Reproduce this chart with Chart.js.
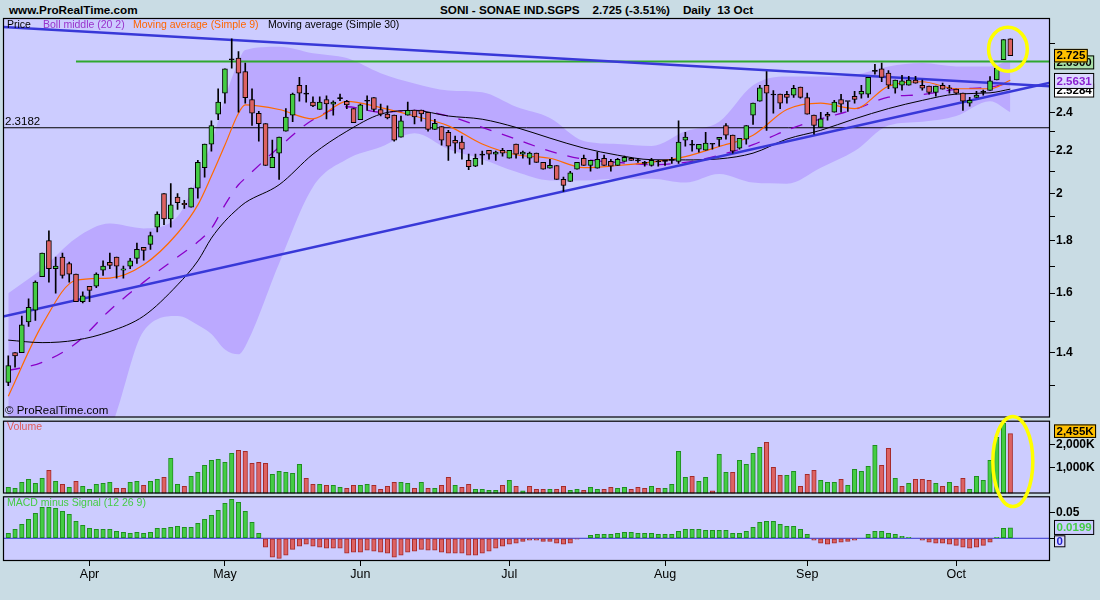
<!DOCTYPE html>
<html>
<head>
<meta charset="utf-8">
<script src="https://cdn.jsdelivr.net/npm/chart.js@4.4.1/dist/chart.umd.min.js"></script>
<style>
  body { margin: 0; width: 1100px; height: 600px; overflow: hidden; background: #c9dce4;
         font-family: "Liberation Sans", Arial, sans-serif; }
  .head { position: absolute; top: 3px; font-weight: bold; font-size: 11.7px; white-space: pre; color: #000; }
  canvas { position: absolute; left: 0; }
</style>
</head>
<body>
<div class="head" style="left:9px">www.ProRealTime.com</div>
<div class="head" style="left:440px">SONI - SONAE IND.SGPS    2.725 (-3.51%)    Daily  13 Oct</div>
<canvas id="priceChart" width="1100" height="420" style="top:0"></canvas>
<canvas id="macdChart" width="1100" height="106" style="top:494px"></canvas>
<canvas id="volChart" width="1100" height="100" style="top:410px"></canvas>
<script>
// daily bars, 16 Mar .. 13 Oct
const opens = [1.31,1.40,1.40,1.50,1.54,1.66,1.80,1.69,1.735,1.71,
  1.67,1.57,1.625,1.625,1.685,1.714,1.735,1.685,1.70,1.73,
  1.773,1.785,1.855,2.00,1.89,1.985,1.957,1.94,2.025,2.12,
  2.235,2.39,2.505,2.70,2.71,2.63,2.47,2.395,2.34,2.12,
  2.19,2.30,2.385,2.55,2.50,2.455,2.415,2.47,2.444,2.475,
  2.46,2.42,2.36,2.46,2.48,2.415,2.39,2.385,2.27,2.385,
  2.412,2.412,2.40,2.31,2.325,2.295,2.254,2.245,2.155,2.127,
  2.18,2.204,2.185,2.204,2.165,2.235,2.185,2.165,2.19,2.145,
  2.117,2.13,2.065,2.055,2.113,2.165,2.131,2.117,2.165,2.15,
  2.131,2.15,2.165,2.152,2.14,2.131,2.147,2.15,2.155,2.15,
  2.255,2.23,2.21,2.204,2.234,2.259,2.33,2.28,2.214,2.26,
  2.385,2.46,2.55,2.495,2.50,2.499,2.494,2.539,2.48,2.385,
  2.32,2.389,2.40,2.47,2.459,2.487,2.499,2.50,2.631,2.645,
  2.62,2.533,2.55,2.55,2.58,2.55,2.545,2.51,2.55,2.535,
  2.528,2.505,2.449,2.482,2.51,2.52,2.58,2.70,2.83];
const highs = [1.39,1.40,1.52,1.58,1.645,1.75,1.84,1.735,1.75,1.715,
  1.67,1.605,1.625,1.675,1.72,1.75,1.735,1.70,1.73,1.79,
  1.773,1.835,1.92,2.00,2.045,2.00,1.97,2.025,2.155,2.235,
  2.355,2.53,2.645,2.83,2.75,2.68,2.53,2.405,2.34,2.255,
  2.27,2.42,2.505,2.595,2.55,2.485,2.485,2.49,2.463,2.50,
  2.465,2.42,2.445,2.49,2.48,2.445,2.435,2.385,2.38,2.455,
  2.412,2.412,2.40,2.363,2.325,2.305,2.275,2.275,2.185,2.185,
  2.20,2.204,2.20,2.214,2.204,2.235,2.20,2.195,2.19,2.145,
  2.16,2.13,2.075,2.103,2.145,2.18,2.155,2.195,2.18,2.16,
  2.165,2.175,2.17,2.165,2.15,2.165,2.155,2.155,2.17,2.355,
  2.295,2.254,2.234,2.295,2.238,2.269,2.34,2.28,2.264,2.33,
  2.45,2.55,2.63,2.52,2.50,2.515,2.55,2.539,2.505,2.385,
  2.40,2.40,2.465,2.499,2.459,2.515,2.55,2.595,2.672,2.68,
  2.635,2.58,2.608,2.602,2.602,2.58,2.545,2.545,2.562,2.55,
  2.528,2.505,2.482,2.515,2.522,2.60,2.65,2.825,2.83];
const lows = [1.30,1.355,1.40,1.485,1.505,1.66,1.64,1.60,1.655,1.64,
  1.57,1.565,1.57,1.62,1.665,1.69,1.655,1.655,1.69,1.71,
  1.723,1.765,1.835,1.865,1.855,1.93,1.935,1.94,1.98,2.075,
  2.20,2.36,2.45,2.65,2.40,2.45,2.33,2.25,2.13,2.12,
  2.065,2.30,2.35,2.46,2.455,2.43,2.415,2.365,2.384,2.463,
  2.42,2.345,2.36,2.41,2.405,2.38,2.365,2.25,2.27,2.385,
  2.338,2.353,2.30,2.31,2.23,2.155,2.19,2.16,2.11,2.125,
  2.135,2.16,2.155,2.175,2.165,2.165,2.165,2.135,2.145,2.113,
  2.117,2.065,2.01,2.055,2.113,2.131,2.103,2.117,2.131,2.103,
  2.131,2.15,2.155,2.145,2.127,2.127,2.127,2.131,2.14,2.14,
  2.225,2.20,2.195,2.204,2.21,2.224,2.26,2.19,2.21,2.234,
  2.335,2.46,2.305,2.395,2.42,2.449,2.482,2.477,2.39,2.285,
  2.32,2.358,2.40,2.40,2.405,2.449,2.477,2.482,2.614,2.57,
  2.53,2.505,2.522,2.55,2.562,2.522,2.499,2.488,2.528,2.505,
  2.499,2.41,2.433,2.482,2.494,2.52,2.58,2.70,2.725];
const closes = [1.36,1.39,1.49,1.55,1.64,1.75,1.69,1.70,1.665,1.67,
  1.57,1.59,1.61,1.67,1.70,1.703,1.70,1.69,1.72,1.765,
  1.761,1.82,1.91,1.89,1.95,1.96,1.951,2.025,2.145,2.235,
  2.33,2.455,2.645,2.70,2.62,2.48,2.395,2.34,2.13,2.17,
  2.27,2.375,2.50,2.505,2.50,2.435,2.455,2.445,2.455,2.475,
  2.44,2.345,2.44,2.46,2.415,2.39,2.37,2.255,2.355,2.41,
  2.375,2.391,2.31,2.342,2.255,2.225,2.24,2.21,2.125,2.165,
  2.18,2.185,2.195,2.19,2.204,2.185,2.195,2.19,2.145,2.113,
  2.131,2.065,2.037,2.095,2.145,2.131,2.155,2.16,2.131,2.127,
  2.16,2.17,2.155,2.152,2.14,2.155,2.147,2.15,2.155,2.245,
  2.27,2.23,2.234,2.24,2.234,2.269,2.28,2.20,2.264,2.33,
  2.45,2.535,2.505,2.495,2.45,2.482,2.533,2.482,2.39,2.33,
  2.365,2.379,2.455,2.444,2.459,2.47,2.515,2.595,2.631,2.595,
  2.55,2.58,2.575,2.58,2.562,2.533,2.51,2.545,2.528,2.53,
  2.505,2.46,2.465,2.494,2.51,2.575,2.65,2.825,2.725];
// volume in thousands of shares
const volumes = [161,119,375,504,333,546,888,418,290,161,
  418,204,76,290,333,375,119,119,375,418,
  247,418,504,589,1401,290,204,632,803,1102,
  1316,1359,1230,1615,1743,1701,1188,1230,1188,717,
  846,803,760,1145,546,290,290,247,247,161,
  119,247,247,290,247,76,204,375,375,333,
  119,375,119,119,247,589,247,161,290,76,
  76,33,33,247,461,204,10,204,76,76,
  76,76,204,33,76,33,161,76,76,161,
  119,161,76,161,119,204,119,119,290,1701,
  589,632,418,589,10,1572,803,803,1316,1145,
  1615,1872,2085,1017,675,675,846,204,717,888,
  461,375,375,504,247,931,846,1059,1957,1102,
  1829,546,204,333,504,504,461,333,204,375,
  204,546,76,632,461,1316,2299,2900,2455];
// MACD minus signal (12 26 9)
const macdHist = [0.0096,0.0173,0.0269,0.0365,0.0481,0.0596,0.0596,0.0577,0.0519,0.0462,
  0.0327,0.025,0.0192,0.0173,0.0173,0.0173,0.0135,0.0115,0.0096,0.0115,
  0.0096,0.0115,0.0192,0.0192,0.0212,0.0231,0.0212,0.0212,0.0288,0.0365,
  0.0442,0.0538,0.0673,0.075,0.0692,0.0519,0.0308,0.0096,-0.0173,-0.0365,
  -0.0385,-0.0327,-0.0212,-0.0154,-0.0115,-0.0154,-0.0173,-0.0192,-0.0192,-0.0192,
  -0.0288,-0.0269,-0.0269,-0.0231,-0.025,-0.0269,-0.0288,-0.0365,-0.0327,-0.0269,
  -0.025,-0.0212,-0.0231,-0.0231,-0.0269,-0.0288,-0.0288,-0.0288,-0.0327,-0.0327,
  -0.0288,-0.025,-0.0192,-0.0154,-0.0115,-0.0096,-0.0058,-0.0038,-0.0038,-0.0058,
  -0.0058,-0.0096,-0.0115,-0.0096,-0.0019,0,0.0058,0.0077,0.0077,0.0077,
  0.0096,0.0115,0.0115,0.0096,0.0096,0.0096,0.0077,0.0077,0.0077,0.0135,
  0.0173,0.0173,0.0173,0.0154,0.0154,0.0154,0.0154,0.0096,0.0096,0.0135,
  0.0212,0.0308,0.0327,0.0327,0.0269,0.0231,0.0231,0.0173,0.0077,-0.0038,
  -0.0096,-0.0115,-0.0096,-0.0077,-0.0058,-0.0038,0,0.0077,0.0135,0.0135,
  0.0096,0.0077,0.0038,0.0019,0,-0.0038,-0.0077,-0.0096,-0.0096,-0.0115,
  -0.0135,-0.0173,-0.0192,-0.0173,-0.0135,-0.0077,0.0019,0.0192,0.0199];

// indicator curves at these bars
const indicatorBars = [0,5,10,15,20,25,28,30,32,34,35,40,45,50,55,60,65,70,75,80,85,90,95,100,105,110,115,120,125,130,135,140,145,148];
const ma9 = [1.27,1.49,1.647,1.655,1.705,1.83,1.95,2.08,2.23,2.395,2.44,2.415,2.365,2.46,2.425,2.38,2.328,2.235,2.182,2.165,2.12,2.13,2.146,2.173,2.223,2.28,2.415,2.45,2.42,2.545,2.57,2.53,2.53,2.579];
const ma30 = [1.44,1.432,1.44,1.468,1.52,1.63,1.72,1.81,1.88,1.936,1.96,2.04,2.185,2.30,2.39,2.41,2.38,2.363,2.32,2.265,2.215,2.18,2.158,2.157,2.162,2.19,2.26,2.305,2.365,2.42,2.465,2.50,2.507,2.528];
const bollMiddle = [1.345,1.37,1.43,1.54,1.64,1.735,1.795,1.85,1.95,2.04,2.07,2.22,2.36,2.43,2.40,2.41,2.38,2.32,2.26,2.20,2.16,2.145,2.134,2.145,2.18,2.232,2.306,2.365,2.415,2.483,2.497,2.527,2.54,2.563];
const bollUpper = [1.60,1.69,1.81,1.87,1.85,1.90,2.08,2.24,2.48,2.69,2.76,2.78,2.74,2.71,2.62,2.56,2.52,2.51,2.43,2.37,2.25,2.235,2.225,2.30,2.35,2.55,2.60,2.60,2.61,2.66,2.68,2.66,2.66,2.70];
const bollLower = [1.15,1.12,1.12,1.18,1.47,1.52,1.49,1.46,1.41,1.395,1.42,1.71,2.03,2.16,2.22,2.29,2.21,2.16,2.10,2.06,2.06,2.068,2.068,2.05,2.09,2.05,2.045,2.12,2.20,2.33,2.35,2.38,2.46,2.40];

// drawn lines: value at left and right edge of the panel
const downTrend = [2.905, 2.544];
const upTrend = [1.518, 2.565];
const resistanceLevel = 2.69, resistanceFromBar = 10;
const pivotLevel = 2.3182;

const monthLabels = ['Apr', 'May', 'Jun', 'Jul', 'Aug', 'Sep', 'Oct'];
const monthStarts = [12, 32, 52, 74, 97, 118, 140];
const priceTicks = [1.3, 1.4, 1.5, 1.6, 1.7, 1.8, 1.9, 2, 2.1, 2.2, 2.3, 2.4, 2.8];
const priceTickLabels = [1.4, 1.6, 1.8, 2, 2.2, 2.4];
const volTicks = [1000, 2000];
const macdTicks = [0, 0.05];

const lastBoll = 2.5631, lastMa30 = 2.5284, lastVolume = 2455, lastMacd = 0.0199;

const FONT = '"Liberation Sans", Arial, sans-serif';
const X_MIN = -0.78, X_MAX = 153.86;
const GREEN = '#44cc44', GREEN_EDGE = '#1f8f1f', RED = '#dd6262', RED_EDGE = '#a52a2a';
const PANEL = '#ccccff';

Chart.defaults.font.family = FONT;
Chart.defaults.color = '#000';

const bars = closes.map((_, i) => i);
const pts = (xs, ys) => xs.map((x, k) => ({ x, y: ys[k] }));
const edgeLine = (a, b) => [{ x: X_MIN, y: a }, { x: X_MAX, y: b }];
const upDay = closes.map((c, i) => i === 0 || c >= closes[i - 1]);

function xAxis(show) {
  return {
    type: 'linear', min: X_MIN, max: X_MAX, display: show, position: 'bottom', offset: false,
    grid: { drawOnChartArea: false, offset: false, color: '#000', tickLength: 5 },
    border: { display: false },
    afterBuildTicks: s => { s.ticks = monthStarts.map(v => ({ value: v })); },
    ticks: { autoSkip: false, maxRotation: 0, padding: 1, font: { size: 12.5 },
             callback: v => monthLabels[monthStarts.indexOf(v)] },
    afterFit: s => { s.height = show ? 39 : 0; s.paddingLeft = 0; s.paddingRight = 0; }
  };
}

function yAxis(extra) {
  return Object.assign({
    position: 'right',
    grid: { drawOnChartArea: false, color: '#000', tickLength: 5 },
    border: { display: false },
    afterFit: s => { s.width = 50; s.paddingTop = 0; s.paddingBottom = 0; }
  }, extra);
}

const panelPlugin = {
  id: 'panel',
  beforeDraw(chart) {
    const { ctx, chartArea: a } = chart;
    ctx.save();
    ctx.fillStyle = PANEL;
    ctx.fillRect(a.left, a.top, a.width, a.height);
    ctx.restore();
  },
  afterDatasetsDraw(chart) {
    const { ctx, chartArea: a } = chart;
    ctx.save();
    ctx.strokeStyle = '#000';
    ctx.lineWidth = 1.2;
    ctx.strokeRect(a.left + 0.5, a.top + 0.5, a.width - 1, a.height - 1);
    ctx.restore();
  }
};

function valueBox(ctx, left, yc, text, bg, fg, h) {
  ctx.font = 'bold 11.5px ' + FONT;
  const w = ctx.measureText(text).width + 5;
  h = h || 14;
  ctx.fillStyle = bg;
  ctx.fillRect(left, yc - h / 2, w, h);
  ctx.strokeStyle = '#000';
  ctx.lineWidth = 1;
  ctx.strokeRect(left + 0.5, yc - h / 2 + 0.5, w - 1, h - 1);
  ctx.fillStyle = fg;
  ctx.textBaseline = 'middle';
  ctx.fillText(text, left + 2.5, yc + 0.5);
}

function highlight(ctx, cx, cy, rx, ry) {
  ctx.save();
  ctx.strokeStyle = '#ffff00';
  ctx.lineWidth = 3.5;
  ctx.beginPath();
  ctx.ellipse(cx, cy, rx, ry, 0, 0, Math.PI * 2);
  ctx.stroke();
  ctx.restore();
}

// ---------- price panel ----------
const legendItems = [['Price', '#000', 7], ['Boll middle (20 2)', '#9933cc', 43],
  ['Moving average (Simple 9)', '#ff6600', 133], ['Moving average (Simple 30)', '#000', 268]];

const priceDecor = {
  id: 'priceDecor',
  afterDraw(chart) {
    const { ctx, chartArea: a, scales: { x, y } } = chart;
    ctx.save();
    ctx.font = '10.5px ' + FONT;
    ctx.textBaseline = 'alphabetic';
    legendItems.forEach(([t, c, lx]) => { ctx.fillStyle = c; ctx.fillText(t, lx, a.top + 9.5); });
    ctx.font = '11.5px ' + FONT;
    ctx.fillStyle = '#000';
    ctx.fillText(pivotLevel.toFixed(4), a.left + 2, y.getPixelForValue(pivotLevel) - 2.5);
    ctx.fillText('\u00a9 ProRealTime.com', a.left + 2, a.bottom - 3.5);

    const n = closes.length;
    const x1 = x.getPixelForValue(n - 2), x2 = x.getPixelForValue(n - 1);
    const yTop = y.getPixelForValue(Math.max(highs[n - 1], highs[n - 2]));
    const yBot = y.getPixelForValue(Math.min(lows[n - 1], lows[n - 2]));
    highlight(ctx, (x1 + x2) / 2 + 1, (yTop + yBot) / 2, (x2 - x1) / 2 + 16, (yBot - yTop) / 2 + 11.5);

    const bx = a.right + 4;
    valueBox(ctx, bx, y.getPixelForValue(resistanceLevel) + 1, resistanceLevel.toFixed(4), '#a8e0a8', '#000');
    valueBox(ctx, bx, y.getPixelForValue(closes[n - 1]), closes[n - 1].toFixed(3), '#ffc000', '#000', 13.5);
    valueBox(ctx, bx, y.getPixelForValue(lastMa30) + 1.5, lastMa30.toFixed(4), '#ffffff', '#000');
    valueBox(ctx, bx, y.getPixelForValue(lastBoll) - 2, lastBoll.toFixed(4), '#dcd8ff', '#8a1fd0', 16);
    ctx.restore();
  }
};

const lineDs = (data, color, width, order, extra) => Object.assign({
  type: 'line', data, borderColor: color, borderWidth: width, pointRadius: 0,
  fill: false, order, cubicInterpolationMode: 'monotone'
}, extra);

new Chart(document.getElementById('priceChart'), {
  data: {
    datasets: [
      lineDs(pts(indicatorBars, bollUpper), 'rgba(0,0,0,0)', 0, 9, { fill: '+1', backgroundColor: '#bba9ff' }),
      lineDs(pts(indicatorBars, bollLower), 'rgba(0,0,0,0)', 0, 9),
      lineDs(edgeLine(pivotLevel, pivotLevel), '#000', 1, 5),
      lineDs([{ x: resistanceFromBar, y: resistanceLevel }, { x: X_MAX, y: resistanceLevel }], '#2fa82f', 2, 5),
      lineDs(pts(indicatorBars, ma30), '#000', 1, 4),
      lineDs(pts(indicatorBars, ma9), '#ff6a00', 1.2, 4),
      lineDs(pts(indicatorBars, bollMiddle), '#8a00c8', 1.3, 4, { borderDash: [12, 11] }),
      lineDs(edgeLine(downTrend[0], downTrend[1]), '#3838d8', 2.5, 3),
      lineDs(edgeLine(upTrend[0], upTrend[1]), '#3838d8', 2.5, 3),
      { type: 'bar', order: 1, grouped: false, barThickness: 1,
        data: bars.map(i => ({ x: i, y: [lows[i], highs[i]] })),
        backgroundColor: '#000', borderWidth: 0 },
      { type: 'bar', order: 0, grouped: false, barThickness: 5, minBarLength: 1,
        data: bars.map(i => ({ x: i, y: [opens[i], closes[i]] })),
        backgroundColor: bars.map(i => closes[i] > opens[i] ? GREEN : closes[i] < opens[i] ? RED : '#000'),
        borderColor: '#000', borderWidth: 1, borderSkipped: false }
    ]
  },
  options: {
    responsive: false, animation: false, events: [],
    layout: { padding: { left: 3, top: 18, bottom: 2.5, right: 0 } },
    plugins: { legend: { display: false }, tooltip: { enabled: false } },
    scales: {
      x: xAxis(false),
      y: yAxis({
        type: 'logarithmic', min: 1.2107, max: 2.965,
        afterBuildTicks: s => { s.ticks = priceTicks.map(v => ({ value: v })); },
        ticks: { padding: 1, font: { size: 12, weight: 'bold' },
                 callback: v => priceTickLabels.includes(v) ? String(v) : '' }
      })
    }
  },
  plugins: [panelPlugin, priceDecor]
});

// ---------- volume panel ----------
const VOL_FLOOR = -103;
const volDecor = {
  id: 'volDecor',
  afterDraw(chart) {
    const { ctx, chartArea: a, scales: { x, y } } = chart;
    ctx.save();
    ctx.font = '10.5px ' + FONT;
    ctx.fillStyle = '#e05a5a';
    ctx.fillText('Volume', a.left + 4, a.top + 9.5);
    const n = volumes.length;
    highlight(ctx, x.getPixelForValue(n - 1) + 2.5, (a.top + a.bottom) / 2 + 4.5, 20, 45);
    valueBox(ctx, a.right + 4, y.getPixelForValue(lastVolume) - 2.5, lastVolume.toLocaleString('en-US') + 'K', '#ffc000', '#000', 13.5);
    ctx.restore();
  }
};

new Chart(document.getElementById('volChart'), {
  type: 'bar',
  data: {
    datasets: [{
      data: bars.map(i => ({ x: i, y: volumes[i] })),
      base: VOL_FLOOR, barThickness: 4.5, grouped: false,
      backgroundColor: bars.map(i => upDay[i] ? GREEN : RED),
      borderColor: bars.map(i => upDay[i] ? GREEN_EDGE : RED_EDGE),
      borderWidth: 1, borderSkipped: false
    }]
  },
  options: {
    responsive: false, animation: false, events: [],
    layout: { padding: { left: 3, top: 10.7, bottom: 16.5, right: 0 } },
    plugins: { legend: { display: false }, tooltip: { enabled: false } },
    scales: {
      x: xAxis(false),
      y: yAxis({
        type: 'linear', min: VOL_FLOOR, max: 3009,
        afterBuildTicks: s => { s.ticks = volTicks.map(v => ({ value: v })); },
        ticks: { padding: 1, font: { size: 12, weight: 'bold' },
                 callback: v => v.toLocaleString('en-US') + 'K' }
      })
    }
  },
  plugins: [panelPlugin, volDecor]
});

// ---------- MACD panel ----------
const macdDecor = {
  id: 'macdDecor',
  afterDraw(chart) {
    const { ctx, chartArea: a, scales: { y } } = chart;
    ctx.save();
    ctx.font = '10.5px ' + FONT;
    ctx.fillStyle = '#44cc44';
    ctx.fillText('MACD minus Signal (12 26 9)', a.left + 4, a.top + 10);
    valueBox(ctx, a.right + 4, y.getPixelForValue(0) + 3, '0', '#dcd8ff', '#2222cc', 12);
    valueBox(ctx, a.right + 4, y.getPixelForValue(lastMacd) - 0.5, lastMacd.toFixed(4), PANEL, '#44cc44', 15);
    ctx.restore();
  }
};

new Chart(document.getElementById('macdChart'), {
  data: {
    datasets: [
      lineDs(edgeLine(0, 0), '#3333cc', 1, 2),
      { type: 'bar', order: 1, grouped: false, barThickness: 4.5,
        data: bars.map(i => ({ x: i, y: macdHist[i] })),
        backgroundColor: macdHist.map(v => v >= 0 ? GREEN : RED),
        borderColor: macdHist.map(v => v >= 0 ? GREEN_EDGE : RED_EDGE),
        borderWidth: 1, borderSkipped: false }
    ]
  },
  options: {
    responsive: false, animation: false, events: [],
    layout: { padding: { left: 3, top: 2.3, bottom: 0, right: 0 } },
    plugins: { legend: { display: false }, tooltip: { enabled: false } },
    scales: {
      x: xAxis(true),
      y: yAxis({
        type: 'linear', min: -0.0437, max: 0.0808,
        afterBuildTicks: s => { s.ticks = macdTicks.map(v => ({ value: v })); },
        ticks: { padding: 1, font: { size: 12, weight: 'bold' },
                 callback: v => v === 0 ? '' : String(v) }
      })
    }
  },
  plugins: [panelPlugin, macdDecor]
});
</script>
</body>
</html>
